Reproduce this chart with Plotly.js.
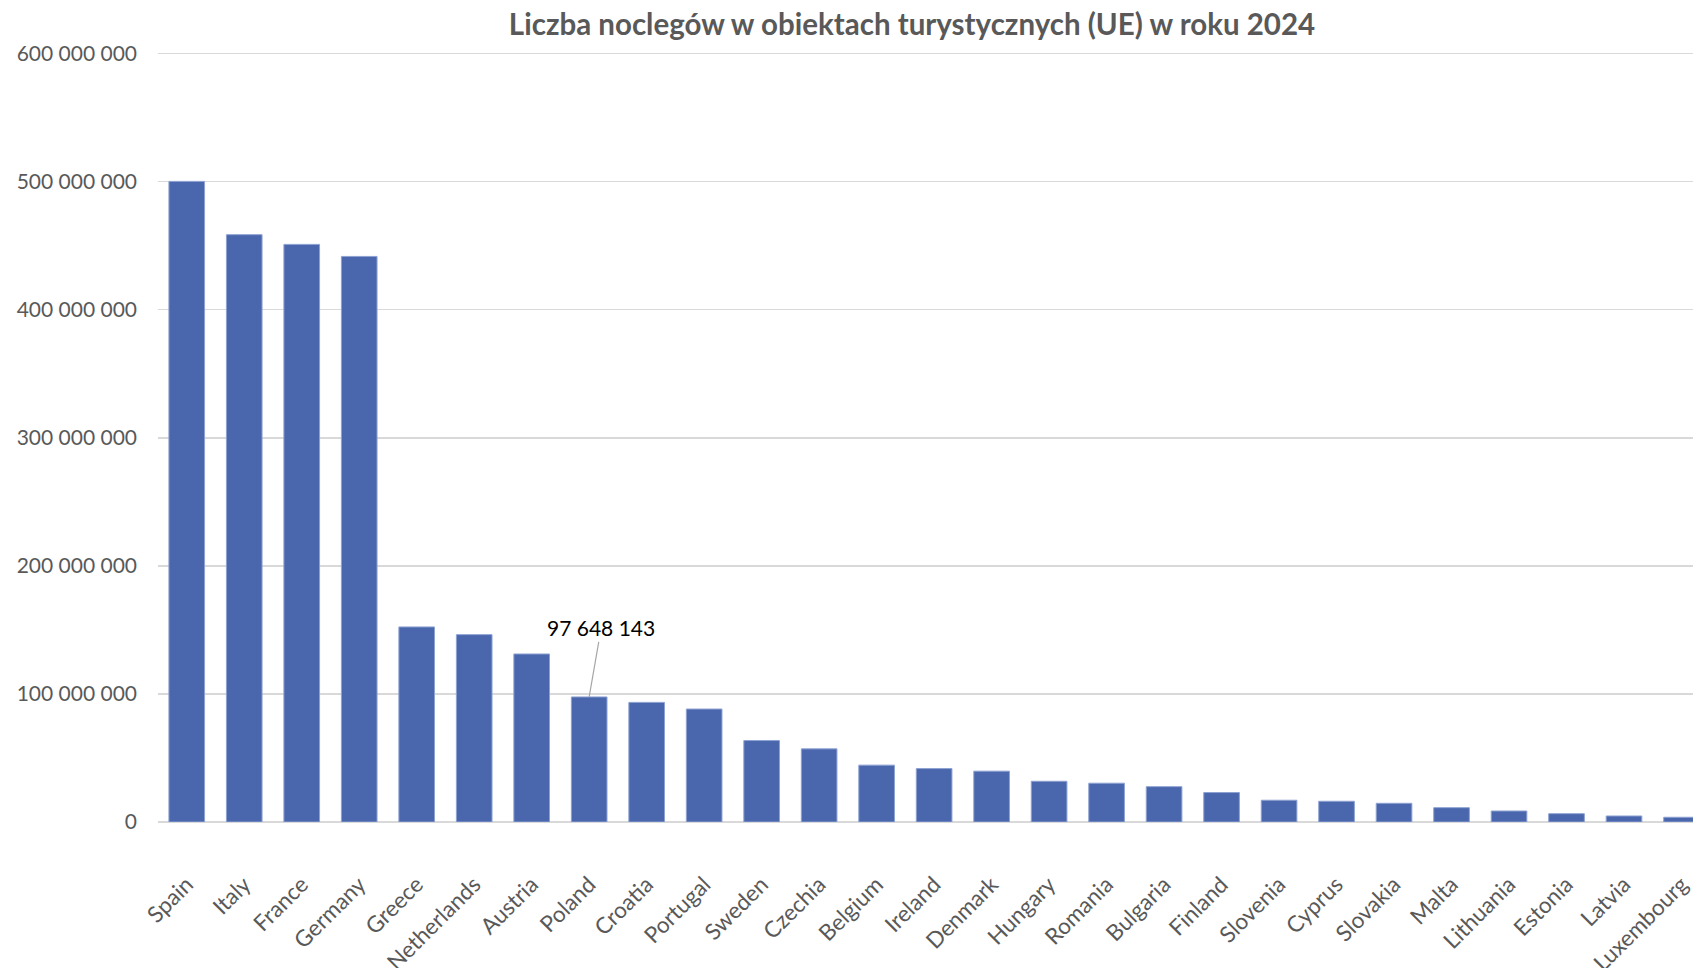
<!DOCTYPE html>
<html>
<head>
<meta charset="utf-8">
<script src="https://cdn.plot.ly/plotly-3.0.1.min.js"></script>
<style>html,body{margin:0;padding:0;background:#fff;}#chart{width:1693px;height:968px;}</style>
</head>
<body>
<div id="chart"></div>
<script>
const countries = ["Spain","Italy","France","Germany","Greece","Netherlands","Austria","Poland","Croatia","Portugal","Sweden","Czechia","Belgium","Ireland","Denmark","Hungary","Romania","Bulgaria","Finland","Slovenia","Cyprus","Slovakia","Malta","Lithuania","Estonia","Latvia","Luxembourg"];
const nights = [500200000,458600000,451000000,441600000,152300000,146300000,131200000,97648143,93400000,88200000,63600000,57100000,44400000,41700000,39700000,31800000,30300000,27600000,23000000,17000000,16200000,14600000,11200000,8600000,6500000,4700000,3700000];
const yTicks = [0,100000000,200000000,300000000,400000000,500000000,600000000];
const labelledCountry = "Poland";
const chartTitle = "Liczba noclegów w obiektach turystycznych (UE) w roku 2024";

function fmt(v){ return String(Math.round(v)).replace(/\B(?=(\d{3})+(?!\d))/g, " "); }

const li = countries.indexOf(labelledCountry);

const data = [{
  type: "bar",
  x: countries,
  y: nights,
  marker: {color: "#4a66ac", line: {color: "#8ea2d2", width: 1}},
  hoverinfo: "x+y"
}];

const layout = {
  width: 1693, height: 968,
  margin: {l: 158, r: 0, t: 51, b: 146, pad: 0},
  paper_bgcolor: "#ffffff", plot_bgcolor: "#ffffff",
  separators: ", ",
  bargap: 0.38,
  showlegend: false,
  font: {family: "Lato, 'Open Sans', sans-serif", color: "#595959", size: 22},
  title: {
    text: "<b>" + chartTitle + "</b>",
    x: 0.5387, xref: "container", xanchor: "center",
    y: 0.975, yref: "container", yanchor: "middle",
    font: {family: "Lato, 'Open Sans', sans-serif", size: 29.5, color: "#595959"}
  },
  xaxis: {
    type: "category",
    range: [-0.5, 26.2],
    tickangle: -45,
    ticks: "",
    ticklabelstandoff: 44,
    showgrid: false,
    showline: false,
    automargin: false,
    tickfont: {size: 22.5, color: "#595959"}
  },
  yaxis: {
    range: [0, 602000000],
    tickvals: yTicks,
    ticktext: yTicks.map(fmt),
    showgrid: true,
    gridcolor: "#d9d9d9",
    gridwidth: 1.5,
    zeroline: true,
    zerolinecolor: "#d9d9d9",
    zerolinewidth: 2.5,
    showline: false,
    ticks: "",
    ticklabelstandoff: 20,
    automargin: false,
    tickfont: {size: 21, color: "#595959"}
  },
  annotations: [{
    x: countries[li], y: nights[li], xref: "x", yref: "y",
    text: fmt(nights[li]),
    showarrow: true, arrowhead: 0, arrowwidth: 1.2, arrowcolor: "#a6a6a6",
    ax: 12, ay: -69, standoff: 0,
    font: {size: 21, color: "#000000"}
  }]
};

Plotly.newPlot("chart", data, layout, {displayModeBar: false, staticPlot: true});
</script>
</body>
</html>
